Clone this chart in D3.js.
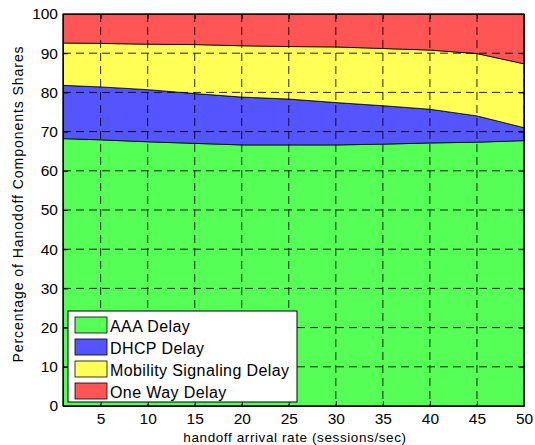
<!DOCTYPE html>
<meta charset='utf-8'>
<style>
body { margin: 0; background: #fff; font-family: Arial, 'Liberation Sans', sans-serif; }
.grid line { stroke: #000; stroke-opacity: 0.85; stroke-dasharray: 8,5; stroke-width: 1; }
.axis text { font-size: 15.5px; fill: #000; }
.axis path, .axis line { stroke: #000; }
</style>
<svg width='535' height='445'></svg>
<script src='https://d3js.org/d3.v7.min.js'></script>
<script>

// handoff arrival rate (sessions/sec)
var rates = [1, 5, 10, 15, 20, 25, 30, 35, 40, 45, 50];
// component shares in percent
var aaa      = [68.2, 67.9, 67.4, 67.0, 66.6, 66.6, 66.6, 66.8, 67.1, 67.3, 67.7];
var dhcp     = [13.6, 13.5, 13.3, 12.7, 12.2, 11.7, 10.8,  9.8,  8.6,  6.7,  3.3];
var mobility = [10.8, 11.1, 11.6, 12.5, 13.1, 13.4, 14.2, 14.6, 15.1, 15.9, 16.3];
var oneway   = [ 7.4,  7.5,  7.7,  7.8,  8.1,  8.3,  8.4,  8.8,  9.2, 10.1, 12.7];

var names  = ['AAA Delay', 'DHCP Delay', 'Mobility Signaling Delay', 'One Way Delay'];
var colors = ['#55ff55', '#5555ff', '#ffff55', '#ff5555'];
var xTicks = [5, 10, 15, 20, 25, 30, 35, 40, 45, 50];
var yTicks = [0, 10, 20, 30, 40, 50, 60, 70, 80, 90, 100];

var svg = d3.select('svg'),
    margin = {left: 63, top: 14, right: 11, bottom: 39},
    width = 535 - margin.left - margin.right,
    height = 445 - margin.top - margin.bottom;

var g = svg.append('g').attr('transform', 'translate(' + margin.left + ',' + margin.top + ')');

var x = d3.scaleLinear().domain([1, 50]).range([0, width]);
var y = d3.scaleLinear().domain([0, 100]).range([height, 0]);

var rows = rates.map(function(r, i) {
    return {rate: r, a: aaa[i], d: dhcp[i], m: mobility[i], o: oneway[i]};
});
var stack = d3.stack().keys(['a', 'd', 'm', 'o']);
var layers = stack(rows);

var area = d3.area()
    .x(function(d) { return x(d.data.rate); })
    .y0(function(d) { return y(d[0]); })
    .y1(function(d) { return y(d[1]); });

g.selectAll('.layer')
    .data(layers)
    .enter()
    .append('path')
    .attr('class', 'layer')
    .attr('d', area)
    .attr('fill', function(d, i) { return colors[i]; })
    .attr('stroke', '#000')
    .attr('stroke-width', 0.8);

// dashed grid
var grid = g.append('g').attr('class', 'grid');
grid.selectAll('.vx')
    .data(xTicks)
    .enter()
    .append('line')
    .attr('x1', function(d) { return x(d); })
    .attr('x2', function(d) { return x(d); })
    .attr('y1', 0)
    .attr('y2', height);
grid.selectAll('.hy')
    .data(yTicks.slice(1, -1))
    .enter()
    .append('line')
    .attr('x1', 0)
    .attr('x2', width)
    .attr('y1', function(d) { return y(d); })
    .attr('y2', function(d) { return y(d); });

// axes, ticks inside like matlab
g.append('g')
    .attr('class', 'axis')
    .attr('transform', 'translate(0,' + height + ')')
    .call(d3.axisBottom(x).tickValues(xTicks).tickSizeInner(-5).tickSizeOuter(0).tickPadding(7));
g.append('g')
    .attr('class', 'axis')
    .call(d3.axisLeft(y).tickValues(yTicks).tickSizeInner(-5).tickSizeOuter(0).tickPadding(5));
g.append('g')
    .attr('class', 'axis')
    .call(d3.axisTop(x).tickValues(xTicks).tickSizeInner(-5).tickSizeOuter(0).tickFormat(''));
g.append('g')
    .attr('class', 'axis')
    .attr('transform', 'translate(' + width + ',0)')
    .call(d3.axisRight(y).tickValues(yTicks).tickSizeInner(-5).tickSizeOuter(0).tickFormat(''));

g.append('rect')
    .attr('width', width).attr('height', height)
    .attr('fill', 'none').attr('stroke', '#000').attr('stroke-width', 1);

// axis labels
svg.append('text')
    .attr('x', 295)
    .attr('y', 442)
    .attr('text-anchor', 'middle')
    .style('font-size', '13.5px')
    .style('letter-spacing', '0.6px')
    .text('handoff arrival rate (sessions/sec)');
svg.append('text')
    .attr('transform', 'translate(23,204) rotate(-90)')
    .attr('text-anchor', 'middle')
    .style('font-size', '14px')
    .style('letter-spacing', '0.95px')
    .text('Percentage of Hanodoff Components Shares');

// legend
var legend = svg.append('g').attr('transform', 'translate(68,311)');
legend.append('rect')
    .attr('width', 229).attr('height', 91)
    .attr('fill', '#fff').attr('stroke', '#000').attr('stroke-width', 1);
var item = legend.selectAll('.item')
    .data(names)
    .enter()
    .append('g')
    .attr('transform', function(d, i) { return 'translate(7,' + (6 + i * 22) + ')'; });
item.append('rect')
    .attr('width', 32).attr('height', 16)
    .attr('fill', function(d, i) { return colors[i]; })
    .attr('stroke', '#000').attr('stroke-width', 0.8);
item.append('text')
    .attr('x', 35).attr('y', 15)
    .style('font-size', '16px')
    .style('letter-spacing', '0.4px')
    .text(function(d) { return d; });

</script>
